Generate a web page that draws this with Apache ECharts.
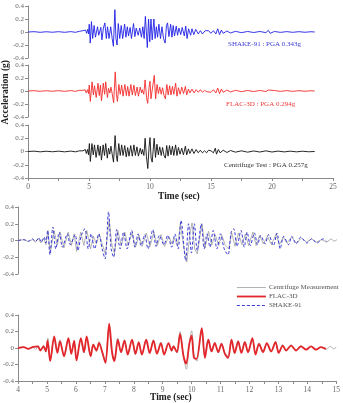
<!DOCTYPE html>
<html>
<head>
<meta charset="utf-8">
<script src="https://cdn.jsdelivr.net/npm/echarts@6/dist/echarts.min.js"></script>
<style>
  html, body { margin: 0; padding: 0; background: #fff; }
  #chart { width: 343px; height: 403px; }
</style>
</head>
<body>
<div id="chart"></div>
<script>
// [time (s), acceleration (g)]
const preEvent = [[0, 0], [0.5, 0.005], [1, -0.005], [1.5, 0.004], [2, -0.004], [2.5, 0.005], [3, -0.005], [3.5, 0.006], [3.9, -0.005]]

const centrifuge = [
  [4.0, 0], [4.2, 0.01], [4.35, -0.01], [4.5, 0.01], [4.6, -0.02], [4.7, 0.03], [4.78, -0.03], [4.88, 0.03], [4.96, -0.05],
  [5.03, 0.12], [5.11, -0.15], [5.24, 0.12], [5.35, -0.05], [5.45, 0.1], [5.58, -0.09], [5.73, 0.1], [5.84, -0.06], [5.93, 0.08],
  [6.02, -0.13], [6.16, 0.1], [6.27, -0.06], [6.37, 0.12], [6.5, -0.1], [6.6, 0.05], [6.7, -0.04], [6.8, 0.08], [6.9, -0.04],
  [7.01, -0.16], [7.14, 0.24], [7.24, -0.06], [7.32, -0.15], [7.44, 0.12], [7.56, -0.06], [7.68, 0.1], [7.79, -0.06], [7.93, 0.09],
  [8.05, -0.08], [8.17, 0.06], [8.28, -0.07], [8.42, 0.09], [8.55, -0.07], [8.68, 0.1], [8.8, -0.06], [8.93, 0.07],
  [9.05, -0.07], [9.2, 0.05], [9.31, -0.04], [9.38, 0.03], [9.5, -0.06], [9.6, 0.2], [9.71, -0.08], [9.82, -0.257], [9.92, 0.06],
  [10.0, 0.21], [10.09, -0.1], [10.18, -0.16], [10.34, 0.2], [10.45, -0.09], [10.57, 0.11], [10.68, -0.05], [10.8, 0.07], [10.92, -0.06],
  [11.03, 0.06], [11.15, -0.06], [11.26, -0.1], [11.37, 0.09], [11.48, -0.07], [11.6, 0.09], [11.72, -0.05], [11.84, 0.08], [11.95, -0.06],
  [12.1, 0.1], [12.21, -0.06], [12.33, 0.06], [12.46, -0.04], [12.6, 0.05], [12.74, -0.05], [12.9, 0.08],
  [13.01, -0.05], [13.15, 0.04], [13.27, -0.03], [13.44, 0.04], [13.6, -0.03], [13.78, 0.03], [13.95, -0.02],
  [14.12, 0.02], [14.3, -0.02], [14.47, 0.01], [14.64, -0.02], [14.8, 0.02], [14.9, -0.01], [15.0, 0.01]
]
const centrifugeTail = [
  [15.2, -0.02], [15.35, 0.05], [15.45, -0.04], [15.6, 0.03], [15.75, -0.02], [16, 0.02], [16.3, -0.015], [16.6, 0.015],
  [17, -0.01], [17.5, 0.01], [18, -0.01], [18.5, 0.008], [19, -0.008], [19.5, 0.01], [20, -0.008], [20.5, 0.006],
  [21, -0.006], [21.5, 0.005], [22, -0.005], [22.5, 0.004], [23, -0.004], [23.5, 0]
]

const flac = [
  [4.0, 0], [4.2, 0.01], [4.35, -0.01], [4.5, 0.01], [4.68, 0.02], [4.77, -0.03], [4.88, 0.02], [4.96, -0.04],
  [5.02, 0.09], [5.11, -0.16], [5.25, 0.14], [5.36, -0.06], [5.45, 0.08], [5.59, -0.1], [5.74, 0.12], [5.84, -0.07], [5.94, 0.09],
  [6.02, -0.15], [6.17, 0.12], [6.28, -0.05], [6.37, 0.14], [6.51, -0.1], [6.6, 0.04], [6.71, -0.03], [6.8, 0.06], [6.91, -0.05],
  [7.02, -0.18], [7.15, 0.294], [7.25, -0.05], [7.33, -0.16], [7.45, 0.1], [7.56, -0.05], [7.68, 0.09], [7.79, -0.08], [7.94, 0.1],
  [8.06, -0.07], [8.17, 0.07], [8.28, -0.08], [8.43, 0.1], [8.55, -0.06], [8.68, 0.09], [8.8, -0.07], [8.94, 0.06],
  [9.05, -0.08], [9.2, 0.06], [9.31, -0.03], [9.37, 0.02], [9.49, -0.05], [9.6, 0.17], [9.72, -0.1], [9.81, -0.19], [9.92, 0.05],
  [10.0, 0.15], [10.08, -0.12], [10.17, -0.13], [10.35, 0.24], [10.46, -0.12], [10.58, 0.1], [10.69, -0.04], [10.8, 0.06], [10.92, -0.05],
  [11.03, 0.05], [11.15, -0.07], [11.26, -0.12], [11.38, 0.1], [11.49, -0.06], [11.61, 0.08], [11.72, -0.06], [11.84, 0.07], [11.95, -0.05],
  [12.1, 0.12], [12.21, -0.08], [12.33, 0.05], [12.47, -0.05], [12.6, 0.06], [12.75, -0.04], [12.9, 0.07],
  [13.01, -0.06], [13.15, 0.03], [13.27, -0.03], [13.44, 0.03], [13.61, -0.03], [13.78, 0.02], [13.96, -0.02],
  [14.13, 0.02], [14.3, -0.02], [14.47, 0.01], [14.64, -0.01]
]
const flacTail = [
  [14.8, 0.02], [15.0, -0.02], [15.2, 0.02], [15.4, -0.03], [15.55, 0.045], [15.7, -0.04], [15.85, 0.03], [16.0, -0.02],
  [16.3, 0.015], [16.6, -0.015], [17, 0.01], [17.5, -0.01], [18, 0.008], [18.5, -0.008], [19, 0.008], [19.5, -0.008],
  [19.7, 0.015], [19.85, -0.012], [20.2, 0.007], [20.7, -0.006], [21.2, 0.006], [21.7, -0.005], [22.2, 0.005], [22.7, -0.004], [23.2, 0.004], [23.5, 0]
]

const shake = [
  [4.0, 0], [4.2, 0.01], [4.35, -0.01], [4.5, 0.02], [4.6, -0.01], [4.72, 0.03], [4.8, -0.02], [4.9, 0.04], [4.96, -0.03],
  [5.02, 0.12], [5.1, -0.17], [5.2, 0.16], [5.3, -0.1], [5.42, 0.1], [5.53, -0.08], [5.7, 0.08], [5.8, -0.05], [5.97, 0.07],
  [6.06, -0.12], [6.18, 0.06], [6.3, 0.14], [6.42, -0.1], [6.52, 0.08], [6.64, -0.1], [6.78, 0.08], [6.9, -0.1],
  [7.0, -0.22], [7.12, 0.343], [7.21, -0.1], [7.3, -0.2], [7.4, 0.13], [7.52, -0.1], [7.64, 0.1], [7.76, -0.1], [7.92, 0.12],
  [8.03, -0.08], [8.14, 0.08], [8.24, -0.06], [8.37, 0.07], [8.48, -0.1], [8.65, 0.13], [8.76, -0.07], [8.87, 0.06],
  [9.03, -0.05], [9.16, 0.06], [9.3, -0.08], [9.41, 0.08], [9.52, -0.1], [9.62, 0.24], [9.78, -0.24], [9.88, 0.2], [9.98, -0.15],
  [10.08, 0.2], [10.18, -0.12], [10.32, 0.2], [10.42, -0.1], [10.52, 0.08], [10.62, -0.08], [10.73, 0.12], [10.86, -0.1], [10.98, 0.08],
  [11.11, -0.1], [11.24, -0.17], [11.35, 0.1], [11.44, 0.14], [11.55, -0.07], [11.69, 0.12], [11.8, -0.08], [11.9, 0.1],
  [12.01, -0.06], [12.15, 0.09], [12.26, -0.05], [12.37, 0.06], [12.52, -0.04], [12.64, 0.07], [12.81, -0.06], [12.93, 0.09],
  [13.04, -0.1], [13.16, 0.05], [13.33, -0.05], [13.44, 0.05], [13.59, -0.04], [13.75, 0.04], [13.96, -0.03],
  [14.13, 0.02], [14.3, -0.03], [14.52, 0.02], [14.64, -0.01]
]
const shakeTail = [
  [14.8, 0.02], [15.0, -0.02], [15.2, 0.02], [15.4, -0.03], [15.55, 0.05], [15.7, -0.04], [15.85, 0.03], [16.0, -0.02],
  [16.3, 0.015], [16.6, -0.015], [17, 0.01], [17.5, -0.01], [18, 0.008], [18.5, -0.008], [19, 0.008], [19.5, -0.01],
  [19.7, 0.025], [19.85, -0.02], [20.2, 0.008], [20.7, -0.006], [21.2, 0.006], [21.7, -0.005], [22.2, 0.005], [22.7, -0.004], [23.2, 0.004], [23.5, 0]
]

const panelLabels = ['SHAKE-91 : PGA 0.343g', 'FLAC-3D : PGA 0.294g', 'Centrifuge Test : PGA 0.257g']
const legendNames = ['Centrifuge Measurement', 'FLAC-3D', 'SHAKE-91']

const serif = '"Liberation Serif", "DejaVu Serif", serif'
const axisGray = '#8a8a8a'
const labelGray = '#666'
const grayLine = '#a0a0a0'
const redLine = '#e3262b'
const blueLine = '#3a3ad6'

const chart = echarts.init(document.getElementById('chart'), null, { renderer: 'canvas' })

const grids = [
  { left: 28, top: 6, width: 305, height: 52 },
  { left: 28, top: 65, width: 305, height: 52 },
  { left: 28, top: 125, width: 305, height: 53 },
  { left: 17, top: 207, width: 320, height: 67 },
  { left: 17, top: 315, width: 320, height: 66 }
]

function yAxis(i) {
  return {
    gridIndex: i,
    type: 'value',
    min: -0.4,
    max: 0.4,
    interval: 0.2,
    splitLine: { show: false },
    axisLine: { show: true, lineStyle: { color: axisGray, width: 1 } },
    axisTick: { show: true, length: 3, lineStyle: { color: axisGray } },
    axisLabel: {
      margin: 4,
      fontSize: 7,
      fontFamily: serif,
      color: labelGray,
      formatter: v => (Math.abs(v) < 1e-9 ? '0' : v.toFixed(1))
    }
  }
}

function xAxis(i, top) {
  const showAxis = i === 2 || i === 4
  return {
    gridIndex: i,
    type: 'value',
    min: top ? 0 : 4,
    max: top ? 25 : 15,
    interval: top ? 2.5 : 0.5,
    show: showAxis,
    splitLine: { show: false },
    axisLine: { show: true, onZero: false, lineStyle: { color: axisGray, width: 1 } },
    axisTick: { show: true, length: 3, lineStyle: { color: axisGray } },
    axisLabel: {
      margin: 5,
      fontSize: 7.5,
      fontFamily: serif,
      color: labelGray,
      formatter: v => (top ? (v % 5 === 0 ? String(v) : '') : (Number.isInteger(v) ? String(v) : ''))
    }
  }
}

function line(name, data, idx, color, width, extra) {
  return Object.assign({
    name,
    type: 'line',
    xAxisIndex: idx,
    yAxisIndex: idx,
    data,
    symbol: 'none',
    silent: true,
    animation: false,
    lineStyle: { color, width },
    itemStyle: { color }
  }, extra || {})
}

const shakeFull = preEvent.concat(shake, shakeTail)
const flacFull = preEvent.concat(flac, flacTail)
const centrifugeFull = preEvent.concat(centrifuge, centrifugeTail)

chart.setOption({
  backgroundColor: '#fff',
  animation: false,
  grid: grids,
  xAxis: [xAxis(0, true), xAxis(1, true), xAxis(2, true), xAxis(3, false), xAxis(4, false)],
  yAxis: [yAxis(0), yAxis(1), yAxis(2), yAxis(3), yAxis(4)],
  legend: {
    data: [
      { name: legendNames[0], lineStyle: { color: grayLine, width: 0.8 } },
      { name: legendNames[1], lineStyle: { color: redLine, width: 1.8 } },
      { name: legendNames[2], lineStyle: { color: blueLine, width: 1, type: [3, 2] } }
    ],
    orient: 'vertical',
    left: 231,
    top: 279,
    itemWidth: 29,
    itemHeight: 7,
    itemGap: 2,
    selectedMode: false,
    itemStyle: { opacity: 0 },
    textStyle: { fontSize: 7, fontFamily: serif, color: '#555', padding: [0, 0, 0, -2] }
  },
  series: [
    line('top-shake', shakeFull, 0, '#1f1fe6', 0.9),
    line('top-flac', flacFull, 1, '#f42a2a', 0.9),
    line('top-centrifuge', centrifugeFull, 2, '#111', 0.9),
    line(legendNames[0], centrifuge, 3, grayLine, 0.8, { z: 2 }),
    line(legendNames[2], shake, 3, blueLine, 1, { z: 3, smooth: 0.3, lineStyle: { color: blueLine, width: 1, type: [3, 2] } }),
    line(legendNames[0], centrifuge, 4, grayLine, 0.8, { z: 2, smooth: 0.3 }),
    line(legendNames[1], flac, 4, redLine, 1.8, { z: 3, smooth: 0.3 })
  ],
  graphic: [
    {
      type: 'text', left: 1, top: 60, rotation: Math.PI / 2,
      style: { text: 'Acceleration (g)', fontSize: 9.5, fontWeight: 'bold', fontFamily: serif, fill: '#222' }
    },
    { type: 'text', left: 228, top: 41, style: { text: panelLabels[0], fontSize: 7, fontFamily: serif, fill: '#3b3bd6' } },
    { type: 'text', left: 226, top: 101, style: { text: panelLabels[1], fontSize: 7, fontFamily: serif, fill: '#ee3a3a' } },
    { type: 'text', left: 224, top: 162, style: { text: panelLabels[2], fontSize: 7, fontFamily: serif, fill: '#333' } },
    { type: 'text', left: 158, top: 192, style: { text: 'Time (sec)', fontSize: 9.5, fontWeight: 'bold', fontFamily: serif, fill: '#222' } },
    { type: 'text', left: 150, top: 393, style: { text: 'Time (sec)', fontSize: 9.5, fontWeight: 'bold', fontFamily: serif, fill: '#222' } }
  ]
})
</script>
</body>
</html>
